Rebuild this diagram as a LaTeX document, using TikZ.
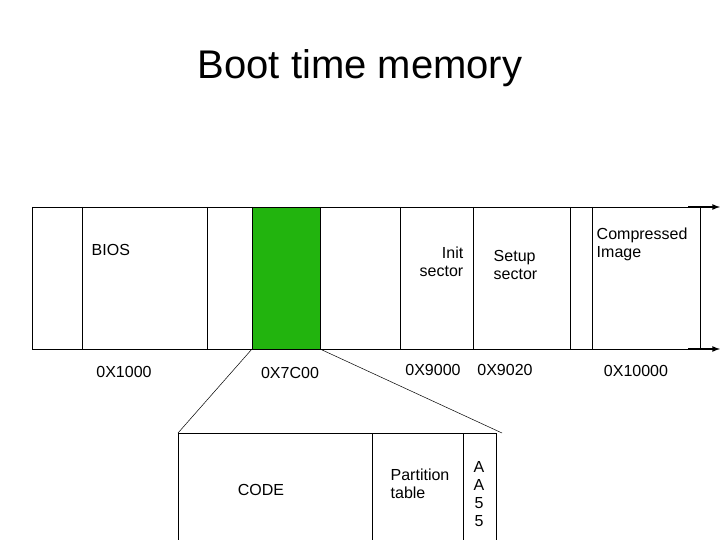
\documentclass[tikz,border=0pt]{standalone}
\usepackage{fontspec}
\setmainfont{Liberation Sans}
\begin{document}
\begin{tikzpicture}[x=1pt,y=-1pt,line width=0.8pt,
  lbl/.style={font=\fontsize{16}{18}\selectfont,align=left},
  arr/.style={line width=1.6pt,-latex}]
\useasboundingbox (0,0) rectangle (720,540);
\fill[green!60!black!90!lime, fill={rgb,255:red,34;green,180;blue,14}] (252,207) rectangle (320,349);
\draw (32,207) -- (700,207);
\draw (32,349) -- (700,349);
\foreach \x in {32,82,207,252,320,400,473,570,592,700} \draw (\x,207) -- (\x,349);
\coordinate (a1) at (688,207); \coordinate (a2) at (720,207);
\coordinate (b1) at (688,349); \coordinate (b2) at (720,349);
\draw[arr] (a1) -- (a2);
\draw[arr] (b1) -- (b2);
\node[font=\fontsize{40}{44}\selectfont] (title) at (360,68) {Boot time memory};
\node[lbl,anchor=west] (bios) at (88,250) {BIOS};
\node[lbl,anchor=north east,align=right] (init) at (467,243) {Init\\sector};
\node[lbl,anchor=north west] (setup) at (490,247) {Setup\\sector};
\node[lbl,anchor=north west] (comp) at (593,224) {Compressed\\Image};
\node[lbl] (l1) at (124,372) {0X1000};
\node[lbl] (l2) at (290,373) {0X7C00};
\node[lbl] (l3) at (433,370) {0X9000};
\node[lbl] (l4) at (505,370) {0X9020};
\node[lbl] (l5) at (636,371) {0X10000};
\coordinate (g1) at (252,349); \coordinate (g2) at (320,349);
\coordinate (c1) at (178,433); \coordinate (c2) at (502,433);
\draw[line width=0.5pt] (g1) -- (c1);
\draw[line width=0.5pt] (g2) -- (c2);
\draw (178,540) -- (178,433) -- (496,433) -- (496,540);
\draw (372,433) -- (372,540);
\draw (463,433) -- (463,540);
\node[lbl] (code) at (261,490) {CODE};
\node[lbl] (part) at (420,484) {Partition\\table};
\node[lbl,align=center] (aa) at (479,494) {A\\A\\5\\5};
\end{tikzpicture}
\end{document}
